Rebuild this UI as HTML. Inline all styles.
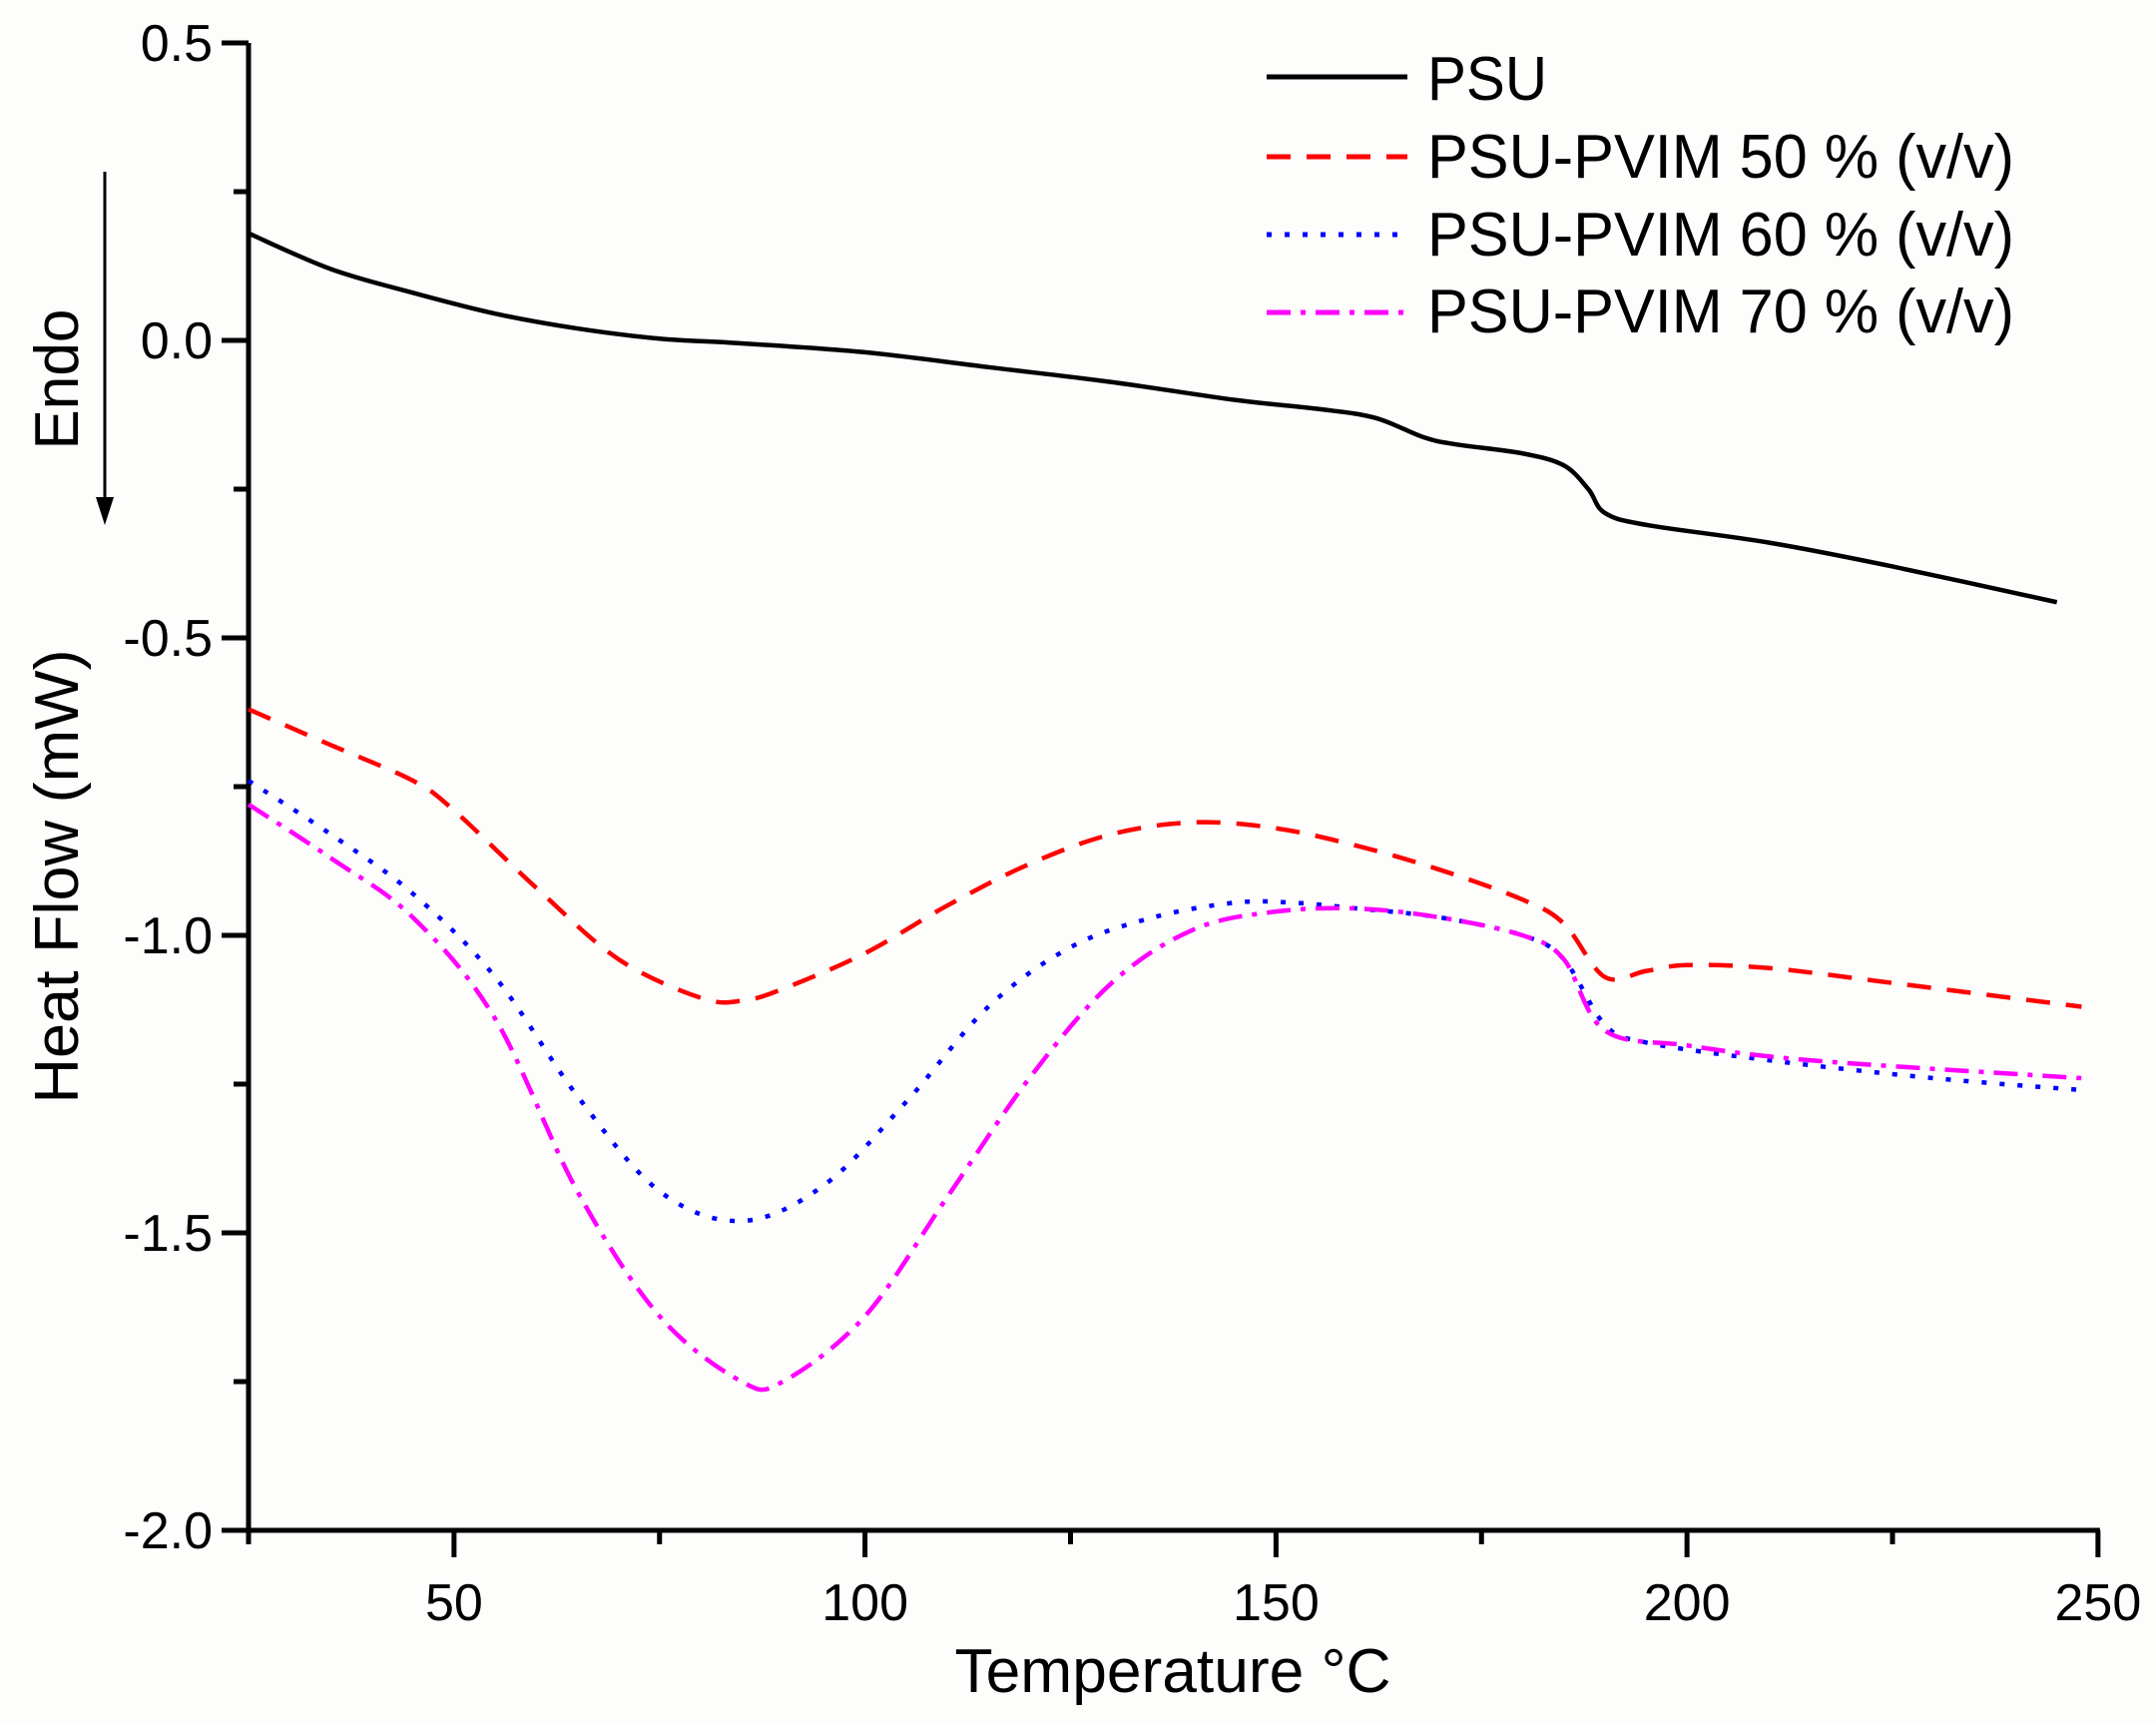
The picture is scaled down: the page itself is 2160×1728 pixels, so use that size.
<!DOCTYPE html>
<html><head><meta charset="utf-8"><style>html,body{margin:0;padding:0;background:#fff}svg{display:block}text{font-family:"Liberation Sans",Arial,sans-serif;fill:#000}</style></head>
<body>
<svg id="s" width="2160" height="1728" xmlns="http://www.w3.org/2000/svg">
<rect width="2160" height="1728" fill="#fdfdfc"/>
<g stroke="#000" stroke-width="5" fill="none" id="axes"></g>
<g id="lbl" font-size="52"></g>
<g id="series" fill="none" stroke-width="4.5"></g>
<text x="1175" y="1695" font-size="62" text-anchor="middle" textLength="437" lengthAdjust="spacingAndGlyphs">Temperature °C</text>
<text transform="translate(78,878) rotate(-90)" font-size="62" text-anchor="middle" textLength="455" lengthAdjust="spacingAndGlyphs">Heat Flow (mW)</text>
<text transform="translate(78,380) rotate(-90)" font-size="62" text-anchor="middle" textLength="141" lengthAdjust="spacingAndGlyphs">Endo</text>
<line x1="105" y1="172" x2="105" y2="500" stroke="#000" stroke-width="3"/>
<polygon points="96,498 114,498 105,526" fill="#000"/>
<g stroke-width="5">
<line x1="1269" y1="77" x2="1410" y2="77" stroke="#000"/>
<line x1="1269" y1="157" x2="1410" y2="157" stroke="#f00" stroke-dasharray="24,16"/>
<line x1="1269" y1="235" x2="1410" y2="235" stroke="#00f" stroke-dasharray="5,13"/>
<line x1="1269" y1="313" x2="1410" y2="313" stroke="#f0f" stroke-dasharray="24,10,5,10"/>
</g>
<g font-size="62">
<text x="1430" y="100" textLength="120" lengthAdjust="spacingAndGlyphs">PSU</text>
<text x="1430" y="178" textLength="588" lengthAdjust="spacingAndGlyphs">PSU-PVIM 50 % (v/v)</text>
<text x="1430" y="256" textLength="588" lengthAdjust="spacingAndGlyphs">PSU-PVIM 60 % (v/v)</text>
<text x="1430" y="333" textLength="588" lengthAdjust="spacingAndGlyphs">PSU-PVIM 70 % (v/v)</text>
</g>
</svg>
<script>
const NS="http://www.w3.org/2000/svg";
const X=t=>249+(t-25)*8.235, Y=v=>341-596*v;
const ax=document.getElementById('axes'), lb=document.getElementById('lbl');
function el(p,tag,a,txt){const e=document.createElementNS(NS,tag);for(const k in a)e.setAttribute(k,a[k]);if(txt!=null)e.textContent=txt;p.appendChild(e);return e;}
el(ax,'line',{x1:X(25),y1:Y(0.5),x2:X(25),y2:Y(-2)+14});
el(ax,'line',{x1:X(25)-2,y1:Y(-2),x2:X(250)+2,y2:Y(-2)});
for(let v=0.5;v>=-2.01;v-=0.25){const maj=Math.abs(v*2-Math.round(v*2))<1e-6;
 el(ax,'line',{x1:X(25),y1:Y(v),x2:X(25)-(maj?27:15),y2:Y(v)});
 if(maj)el(lb,'text',{x:X(25)-36,y:Y(v)+18,'text-anchor':'end'},v.toFixed(1));}
for(let t=25;t<=250;t+=25){const maj=t%50==0;
 if(t>25)el(ax,'line',{x1:X(t),y1:Y(-2),x2:X(t),y2:Y(-2)+(maj?27:14)});
 if(maj)el(lb,'text',{x:X(t),y:Y(-2)+90,'text-anchor':'middle'},t);}
function path(pts){const p=pts.map(([t,v])=>[X(t),Y(v)]);let d=`M${p[0][0]},${p[0][1]}`;
 for(let i=0;i<p.length-1;i++){const p0=p[i-1]||p[i],p1=p[i],p2=p[i+1],p3=p[i+2]||p2;
 d+=` C${p1[0]+(p2[0]-p0[0])/6},${p1[1]+(p2[1]-p0[1])/6} ${p2[0]-(p3[0]-p1[0])/6},${p2[1]-(p3[1]-p1[1])/6} ${p2[0]},${p2[1]}`;}return d;}
const S=[
["#000","",[[25,0.18],[35,0.12],[45,0.08],[55,0.045],[65,0.02],[75,0.003],[85,-0.005],[100,-0.02],[115,-0.045],[130,-0.07],[145,-0.10],[155,-0.115],[162,-0.13],[168,-0.163],[172,-0.175],[180,-0.19],[185,-0.21],[188,-0.25],[190,-0.29],[195,-0.31],[210,-0.34],[225,-0.38],[245,-0.44]]],
["#f00","24,16",[[25,-0.62],[35,-0.68],[45,-0.74],[50,-0.79],[60,-0.92],[70,-1.04],[80,-1.105],[85,-1.11],[90,-1.09],[100,-1.03],[110,-0.95],[120,-0.88],[130,-0.83],[140,-0.81],[150,-0.82],[160,-0.85],[170,-0.89],[180,-0.94],[185,-0.98],[190,-1.07],[195,-1.06],[200,-1.05],[210,-1.055],[225,-1.08],[248,-1.12]]],
["#00f","5,13",[[25,-0.74],[35,-0.83],[45,-0.93],[55,-1.07],[65,-1.27],[75,-1.43],[85,-1.48],[95,-1.42],[105,-1.28],[115,-1.12],[125,-1.02],[135,-0.97],[145,-0.945],[152,-0.945],[160,-0.955],[170,-0.97],[180,-1.0],[185,-1.04],[190,-1.15],[195,-1.18],[210,-1.21],[230,-1.24],[248,-1.26]]],
["#f0f","24,10,5,10",[[25,-0.78],[35,-0.87],[45,-0.97],[55,-1.14],[65,-1.43],[75,-1.64],[85,-1.75],[90,-1.75],[100,-1.64],[110,-1.44],[120,-1.24],[130,-1.08],[140,-0.99],[150,-0.96],[160,-0.955],[170,-0.97],[180,-1.0],[185,-1.04],[190,-1.16],[200,-1.185],[215,-1.21],[248,-1.24]]]];
const sg=document.getElementById('series');
for(const [c,da,pts] of S){const a={d:path(pts),stroke:c};if(da)a['stroke-dasharray']=da;el(sg,'path',a);}
</script>
</body></html>
